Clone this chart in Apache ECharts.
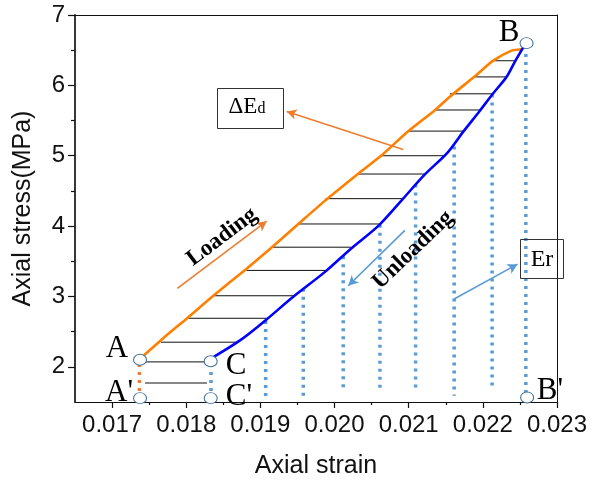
<!DOCTYPE html>
<html>
<head>
<meta charset="utf-8">
<script src="https://cdn.jsdelivr.net/npm/echarts@6/dist/echarts.min.js"></script>
<style>html,body{margin:0;padding:0;background:#fff;}#c{width:595px;height:484px;}</style>
</head>
<body>
<div id="c"></div>
<script>
// ---- data ----
const xTicks = [0.017, 0.018, 0.019, 0.020, 0.021, 0.022, 0.023];
const xMinor = [0.0175, 0.0185, 0.0195, 0.0205, 0.0215, 0.0225];
const yTicks = [2, 3, 4, 5, 6, 7];
const yMinor = [2.5, 3.5, 4.5, 5.5, 6.5];

// loading curve (orange)
const loadX = [0.017398, 0.017687, 0.018024, 0.018361, 0.018806, 0.019156, 0.019493, 0.019844, 0.020315, 0.020639, 0.020989, 0.021353, 0.021555, 0.021892, 0.022135, 0.022387, 0.022522, 0.022553];
const loadY = [2.135, 2.404, 2.701, 3.006, 3.388, 3.700, 4.011, 4.337, 4.741, 5.010, 5.343, 5.647, 5.839, 6.129, 6.348, 6.494, 6.514, 6.554];
// unloading curve (blue)
const unloadX = [0.018361, 0.018725, 0.019075, 0.019439, 0.019884, 0.020221, 0.020598, 0.020922, 0.021218, 0.021524, 0.021734, 0.021960, 0.022135, 0.022319, 0.022431, 0.022553];
const unloadY = [2.135, 2.375, 2.666, 2.992, 3.360, 3.679, 4.011, 4.387, 4.734, 5.045, 5.339, 5.640, 5.881, 6.118, 6.334, 6.554];

// hatch lines (horizontal)
const hatchY  = [1.77, 2.07, 2.35, 2.69, 3.01, 3.37, 3.70, 4.03, 4.39, 4.74, 5.00, 5.35, 5.65, 5.88, 6.12, 6.35];
const hatchXL = [0.017445, 0.017445, 0.017660, 0.018028, 0.018365, 0.018813, 0.019152, 0.019500, 0.019880, 0.020320, 0.020635, 0.020994, 0.021353, 0.021555, 0.021892, 0.022139];
const hatchXR = [0.018280, 0.018276, 0.018710, 0.019085, 0.019443, 0.019884, 0.020221, 0.020598, 0.020918, 0.021218, 0.021500, 0.021734, 0.021960, 0.022139, 0.022319, 0.022431];

// vertical dotted drop lines (blue)
const dropX      = [0.018334, 0.019071, 0.019578, 0.020117, 0.020612, 0.021093, 0.021613, 0.022125, 0.022580];
const dropTop    = [2.04, 2.65, 3.11, 3.57, 4.02, 4.59, 5.13, 5.87, 6.56];
const dropBottom = [1.60, 1.57, 1.59, 1.64, 1.66, 1.65, 1.59, 1.69, 1.62];
// orange dotted A-A'
const dropAX = [0.017368];
const dropATop = [2.04];
const dropABottom = [1.61];

// key points
const pointNames = ['A', "A'", 'C', "C'", 'B', "B'"];
const pointX = [0.017377, 0.017377, 0.01833, 0.01833, 0.022589, 0.022597];
const pointY = [2.10, 1.555, 2.08, 1.555, 6.60, 1.565];

// annotation arrows [x1, y1, x2, y2]
const arrowLoading   = [0.017880, 3.115, 0.019085, 4.07];
const arrowUnloading = [0.020949, 3.94, 0.020185, 3.152];
const arrowEr        = [0.021613, 2.963, 0.022468, 3.459];
const arrowEd        = [0.020926, 5.088, 0.019354, 5.63];

// ---- chart ----
const chart = echarts.init(document.getElementById('c'), null, {renderer: 'canvas'});
const sans = 'Liberation Sans';
const serif = 'Liberation Serif';
const orange = '#FF8000';
const arrowOrange = '#ED7D31';
const lightBlue = '#5B9BD5';

const hatchData = hatchY.map((y, i) => [hatchXL[i], hatchXR[i], y]);
const dropData = dropX.map((x, i) => [x, dropTop[i], dropBottom[i]]);
const dropAData = dropAX.map((x, i) => [x, dropATop[i], dropABottom[i]]);

function vRender(color) {
  return function (params, api) {
    const p1 = api.coord([api.value(0), api.value(1)]);
    const p2 = api.coord([api.value(0), api.value(2)]);
    return {type: 'line', shape: {x1: p1[0], y1: p1[1], x2: p2[0], y2: p2[1]},
      style: {stroke: color, lineWidth: 3.5, lineDash: [3, 5], lineCap: 'butt'}};
  };
}

function arrowItem(a, color) {
  return [{coord: [a[0], a[1]], lineStyle: {color: color, width: 1.6, type: 'solid'}}, {coord: [a[2], a[3]]}];
}

function label(text, x, y, size, extra) {
  return Object.assign({type: 'text', x: x, y: y, z: 10,
    style: {text: text, font: size + 'px "Liberation Serif"', fill: '#000', align: 'center', verticalAlign: 'middle'}}, extra || {});
}

const option = {
  animation: false,
  backgroundColor: '#fff',
  grid: {left: 75, right: 38, top: 15, bottom: 81},
  xAxis: [
    {type: 'value', min: 0.0165, max: 0.023, position: 'bottom',
      name: 'Axial strain', nameLocation: 'middle', nameGap: 52,
      nameTextStyle: {fontFamily: sans, fontSize: 25, color: '#111'},
      axisLine: {show: true, onZero: false, lineStyle: {color: '#111', width: 1.2}},
      axisTick: {show: true, length: 6, inside: false, customValues: xTicks, lineStyle: {color: '#111', width: 1.2}},
      axisLabel: {customValues: xTicks, formatter: v => v.toFixed(3), margin: 11, fontFamily: sans, fontSize: 24, color: '#111'},
      splitLine: {show: false}},
    {type: 'value', min: 0.0165, max: 0.023, position: 'bottom',
      axisLine: {show: false, onZero: false},
      axisTick: {show: true, length: 3, customValues: xMinor, lineStyle: {color: '#111', width: 1.2}},
      axisLabel: {show: false}, splitLine: {show: false}},
    {type: 'value', min: 0.0165, max: 0.023, position: 'top',
      axisLine: {show: true, onZero: false, lineStyle: {color: '#111', width: 1}},
      axisTick: {show: false}, axisLabel: {show: false}, splitLine: {show: false}}
  ],
  yAxis: [
    {type: 'value', min: 1.5, max: 7, position: 'left',
      name: 'Axial stress(MPa)', nameLocation: 'middle', nameGap: 39,
      nameTextStyle: {fontFamily: sans, fontSize: 25, color: '#111'},
      axisLine: {show: true, onZero: false, lineStyle: {color: '#222', width: 1.8}},
      axisTick: {show: true, length: 7, customValues: yTicks, lineStyle: {color: '#111', width: 1.2}},
      axisLabel: {customValues: yTicks, margin: 10, fontFamily: sans, fontSize: 24, color: '#111'},
      splitLine: {show: false}},
    {type: 'value', min: 1.5, max: 7, position: 'left',
      axisLine: {show: false, onZero: false},
      axisTick: {show: true, length: 4, customValues: yMinor, lineStyle: {color: '#111', width: 1.2}},
      axisLabel: {show: false}, splitLine: {show: false}},
    {type: 'value', min: 1.5, max: 7, position: 'right',
      axisLine: {show: true, onZero: false, lineStyle: {color: '#111', width: 1}},
      axisTick: {show: false}, axisLabel: {show: false}, splitLine: {show: false}}
  ],
  series: [
    {type: 'custom', name: 'hatch', xAxisIndex: 0, yAxisIndex: 0, data: hatchData,
      encode: {x: [0, 1], y: 2}, z: 2,
      renderItem: function (params, api) {
        const p1 = api.coord([api.value(0), api.value(2)]);
        const p2 = api.coord([api.value(1), api.value(2)]);
        return {type: 'line', shape: {x1: p1[0], y1: p1[1], x2: p2[0], y2: p2[1]},
          style: {stroke: '#111', lineWidth: 1}};
      }},
    {type: 'custom', name: 'drop', xAxisIndex: 0, yAxisIndex: 0, data: dropData,
      encode: {x: 0, y: [1, 2]}, z: 2, renderItem: vRender(lightBlue)},
    {type: 'custom', name: 'dropA', xAxisIndex: 0, yAxisIndex: 0, data: dropAData,
      encode: {x: 0, y: [1, 2]}, z: 2, renderItem: vRender(arrowOrange)},
    {type: 'line', name: 'Loading', xAxisIndex: 0, yAxisIndex: 0,
      data: loadX.map((x, i) => [x, loadY[i]]), showSymbol: false, symbol: 'none', z: 3,
      smooth: 0.2,
      lineStyle: {color: orange, width: 2.6},
      markLine: {silent: true, symbol: ['none', 'arrow'], symbolSize: [8, 10], label: {show: false},
        animation: false,
        data: [arrowItem(arrowLoading, arrowOrange), arrowItem(arrowEd, arrowOrange),
               arrowItem(arrowUnloading, lightBlue), arrowItem(arrowEr, lightBlue)]}},
    {type: 'line', name: 'Unloading', xAxisIndex: 0, yAxisIndex: 0,
      data: unloadX.map((x, i) => [x, unloadY[i]]), showSymbol: false, symbol: 'none', z: 3,
      smooth: 0.3,
      lineStyle: {color: '#0000FF', width: 2.6}},
    {type: 'scatter', name: 'points', xAxisIndex: 0, yAxisIndex: 0, z: 5,
      data: pointX.map((x, i) => ({name: pointNames[i], value: [x, pointY[i]]})),
      symbol: 'circle', symbolSize: [13, 11],
      itemStyle: {color: '#fff', borderColor: '#41719C', borderWidth: 1, opacity: 1}}
  ],
  graphic: [
    // point labels
    label('A', 117, 349, 31),
    label("A'", 119, 393, 31),
    label('C', 236, 366, 31),
    label("C'", 239, 397, 31),
    label('B', 509, 33, 31),
    label("B'", 550, 391, 31),
    // ΔEd box
    {type: 'rect', z: 10, shape: {x: 217.5, y: 88.5, width: 66, height: 40},
      style: {fill: 'none', stroke: '#333', lineWidth: 1}},
    {type: 'text', x: 247, y: 118, z: 10, style: {
      text: '{a|ΔE}{b|d}', align: 'center', verticalAlign: 'bottom',
      rich: {a: {fontFamily: serif, fontSize: 23, fill: '#000', verticalAlign: 'bottom'},
             b: {fontFamily: serif, fontSize: 16, fill: '#000', verticalAlign: 'bottom', padding: [0, 0, 1, 0]}}}},
    // Er box
    {type: 'rect', z: 10, shape: {x: 520.5, y: 239.5, width: 43, height: 39},
      style: {fill: 'none', stroke: '#333', lineWidth: 1}},
    label('Er', 542, 260, 24),
    // rotated texts
    {type: 'text', x: 222, y: 237, z: 10, rotation: 37 * Math.PI / 180,
      style: {text: 'Loading', font: 'bold 23px "Liberation Serif"', fill: '#000', align: 'center', verticalAlign: 'middle'}},
    {type: 'text', x: 413, y: 250, z: 10, rotation: 44 * Math.PI / 180,
      style: {text: 'Unloading', font: 'bold 23px "Liberation Serif"', fill: '#000', align: 'center', verticalAlign: 'middle'}}
  ]
};
chart.setOption(option);
</script>
</body>
</html>
